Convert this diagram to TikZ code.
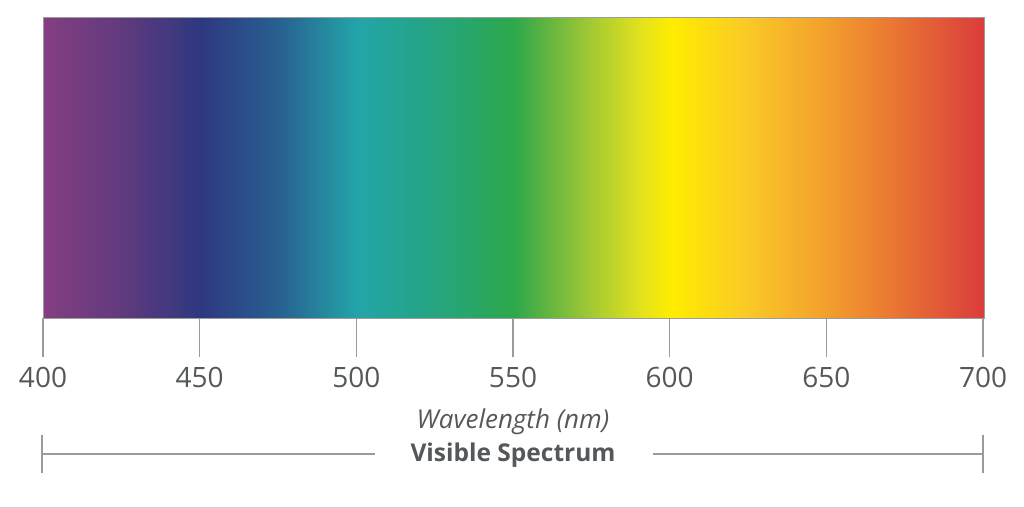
\documentclass[tikz,border=0pt]{standalone}
\usepackage{fontspec}
\setmainfont{Open Sans}
\definecolor{txt}{RGB}{85,88,90}
\definecolor{ln}{RGB}{155,155,155}
\definecolor{s400}{RGB}{133,62,130}
\definecolor{s425}{RGB}{96,58,125}
\definecolor{s450}{RGB}{46,56,128}
\definecolor{s475}{RGB}{40,96,145}
\definecolor{s500}{RGB}{34,165,168}
\definecolor{s525}{RGB}{37,164,128}
\definecolor{s550}{RGB}{45,168,75}
\definecolor{s562}{RGB}{105,182,62}
\definecolor{s575}{RGB}{165,202,50}
\definecolor{s590}{RGB}{225,225,30}
\definecolor{s600}{RGB}{255,237,0}
\definecolor{s625}{RGB}{250,200,40}
\definecolor{s650}{RGB}{242,158,45}
\definecolor{s675}{RGB}{232,110,52}
\definecolor{s700}{RGB}{218,60,60}
\pgfdeclarehorizontalshading{spectrum}{100bp}{%
color(0bp)=(s400); color(25bp)=(s400);
color(29.17bp)=(s425); color(33.33bp)=(s450); color(37.5bp)=(s475);
color(41.67bp)=(s500); color(45.83bp)=(s525); color(50bp)=(s550);
color(52bp)=(s562); color(54.17bp)=(s575); color(56.67bp)=(s590);
color(58.33bp)=(s600); color(62.5bp)=(s625); color(66.67bp)=(s650);
color(70.83bp)=(s675); color(75bp)=(s700); color(100bp)=(s700)}
\tikzset{
  tickline/.style={draw=ln, line width=1.2pt},
  ticklabel/.style={text=txt, font=\fontsize{28}{32}\selectfont, inner sep=0pt},
  axislabel/.style={text=txt, font=\fontsize{26}{30}\selectfont\itshape, inner sep=0pt},
  rangelabel/.style={text=txt, font=\fontsize{24.5}{28}\selectfont\bfseries, inner sep=0pt},
}
\begin{document}
\begin{tikzpicture}[x=1pt,y=-1pt]
\useasboundingbox (0,0) rectangle (1024,506);
\node[draw=ln, line width=0.8pt, shading=spectrum, minimum width=941pt, minimum height=301pt, inner sep=0pt, anchor=north west] (bar) at (43,17) {};
\foreach \w [count=\i from 0] in {400,450,500,550,600,650,700} {
  \coordinate (t\w) at ({43+\i*940/6},318);
  \coordinate (b\w) at ({43+\i*940/6},357);
  \draw[tickline] (t\w) -- (b\w);
  \node[ticklabel] (l\w) at ({43+\i*940/6},377) {\w};
}
\node[axislabel] (wl) at (513,422) {Wavelength (nm)};
\node[rangelabel] (vs) at (513,455) {Visible Spectrum};
\coordinate (lt) at (42,435);
\coordinate (lb) at (42,473);
\coordinate (lm) at (42,454);
\coordinate (rt) at (983,435);
\coordinate (rb) at (983,473);
\coordinate (rm) at (983,454);
\coordinate (le) at (375,454);
\coordinate (rs) at (653,454);
\draw[tickline] (lt) -- (lb);
\draw[tickline] (rt) -- (rb);
\draw[tickline] (lm) -- (le);
\draw[tickline] (rs) -- (rm);
\end{tikzpicture}
\end{document}
